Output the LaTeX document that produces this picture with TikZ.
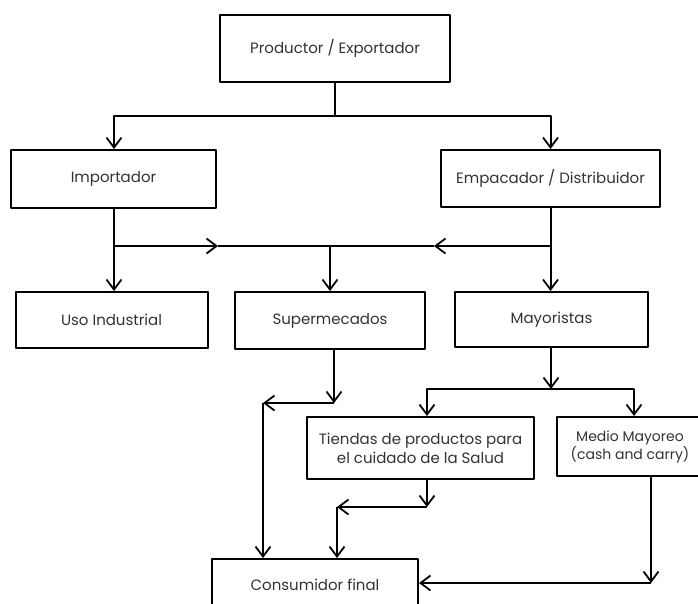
\documentclass[tikz,border=0pt]{standalone}
\usepackage{fontspec}
\setmainfont{Poppins}
\usetikzlibrary{arrows.meta}
\begin{document}
\begin{tikzpicture}[x=1pt,y=-1pt,
  line width=2pt,line join=round,
  box/.style={draw,rectangle,inner sep=0pt,line width=2pt,font=\fontsize{15}{19}\selectfont,text=black!80,align=center},
  >={Straight Barb[length=10pt,width=15pt,line width=1.8pt]}]
\clip (0,0) rectangle (698,603);
\fill[white] (0,0) rectangle (698,603);
% boxes
\node[box,minimum width=230,minimum height=67] (prod) at (335,48.5) {Productor / Exportador};
\node[box,minimum width=205,minimum height=58] (imp) at (113.5,179) {Importador};
\node[box,minimum width=219,minimum height=57] (emp) at (550.5,178.5) {Empacador / Distribuidor};
\node[box,minimum width=192,minimum height=56] (uso) at (111.5,320) {Uso Industrial};
\node[box,minimum width=190,minimum height=57] (sup) at (330,320.5) {Supermecados};
\node[box,minimum width=193,minimum height=55] (may) at (551.5,319.5) {Mayoristas};
\node[box,minimum width=227,minimum height=62] (tie) at (420.5,448) {Tiendas de productos para\\el cuidado de la Salud};
\node[box,minimum width=158,minimum height=59] (med) at (636,446.5) {};
\node[font=\fontsize{14}{18}\selectfont,text=black!80,align=center,inner sep=0pt] (medt) at (630,446.5) {Medio Mayoreo\\(cash and carry)};
\node[box,minimum width=206,minimum height=52] (con) at (315,585) {Consumidor final};
% junction coordinates
\coordinate (j1) at (335,116);
\coordinate (jl) at (114,116);
\coordinate (jr) at (550.5,116);
\coordinate (h1) at (114,246);
\coordinate (h2) at (550.5,246);
\coordinate (hm) at (330,246);
\coordinate (a1) at (218,246);
\coordinate (a2) at (434,246);
\coordinate (m1) at (551,389);
\coordinate (ml) at (427,389);
\coordinate (mr) at (634,389);
\coordinate (s1) at (334,403);
\coordinate (s2) at (263,403);
\coordinate (t1) at (427,507);
\coordinate (t2) at (337,507);
\coordinate (d1) at (651,583);
% connectors
\draw (prod.south) -- (j1);
\draw[->] (j1) -- (jl) -- (jl |- imp.north);
\draw[->] (j1) -- (jr) -- (jr |- emp.north);
\draw[->] (imp.south -| h1) -- (h1 |- uso.north);
\draw[->] (h1) -- (a1);
\draw (a1) -- (hm);
\draw[->] (h2) -- (a2);
\draw (a2) -- (hm);
\draw[->] (hm) -- (sup.north);
\draw[->] (emp.south) -- (emp.south |- may.north);
\draw[->] (may.south -| m1) -- (m1);
\draw[->] (m1) -- (ml) -- (ml |- tie.north);
\draw[->] (m1) -- (mr) -- (mr |- med.north);
\draw[->] (sup.south -| s1) -- (s1);
\draw[->] (s1) -- (s2);
\draw[->] (s2) -- (s2 |- con.north);
\draw[->] (tie.south -| t1) -- (t1);
\draw[->] (t1) -- (t2);
\draw[->] (t2) -- (t2 |- con.north);
\draw[->] (med.south -| d1) -- (d1);
\draw[->] (d1) -- (d1 -| con.east);
\end{tikzpicture}
\end{document}
